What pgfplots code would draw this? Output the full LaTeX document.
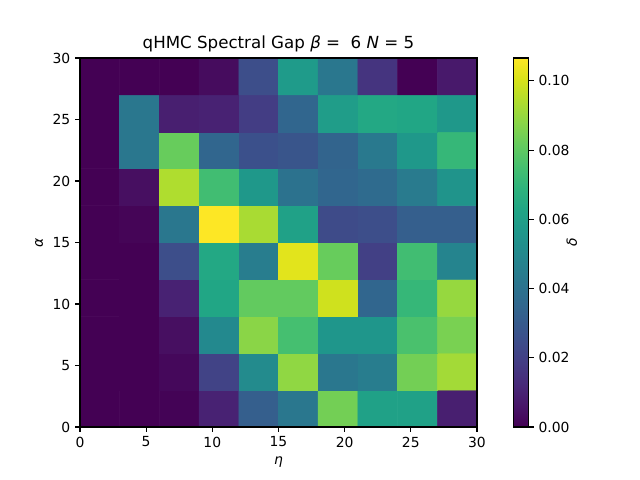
\documentclass[border=0pt]{standalone}
\usepackage{fontspec}
\setmainfont{DejaVu Sans}
\usepackage{pgfplots}
\pgfplotsset{compat=1.18}
\pgfplotstableread{
x y c
1.5 1.5 0
4.5 1.5 0
7.5 1.5 0.0005
10.5 1.5 0.010
13.5 1.5 0.032
16.5 1.5 0.042
19.5 1.5 0.084
22.5 1.5 0.061
25.5 1.5 0.061
28.5 1.5 0.009
1.5 4.5 0
4.5 4.5 0
7.5 4.5 0.002
10.5 4.5 0.021
13.5 4.5 0.051
16.5 4.5 0.089
19.5 4.5 0.042
22.5 4.5 0.045
25.5 4.5 0.084
28.5 4.5 0.092
1.5 7.5 0
4.5 7.5 0
7.5 7.5 0.004
10.5 7.5 0.050
13.5 7.5 0.088
16.5 7.5 0.075
19.5 7.5 0.056
22.5 7.5 0.056
25.5 7.5 0.076
28.5 7.5 0.085
1.5 10.5 0
4.5 10.5 0
7.5 10.5 0.010
10.5 10.5 0.063
13.5 10.5 0.081
16.5 10.5 0.081
19.5 10.5 0.099
22.5 10.5 0.035
25.5 10.5 0.071
28.5 10.5 0.090
1.5 13.5 0
4.5 13.5 0
7.5 13.5 0.025
10.5 13.5 0.064
13.5 13.5 0.045
16.5 13.5 0.102
19.5 13.5 0.082
22.5 13.5 0.020
25.5 13.5 0.074
28.5 13.5 0.048
1.5 16.5 0
4.5 16.5 0.001
7.5 16.5 0.042
10.5 16.5 0.1066
13.5 16.5 0.093
16.5 16.5 0.061
19.5 16.5 0.024
22.5 16.5 0.025
25.5 16.5 0.032
28.5 16.5 0.032
1.5 19.5 0
4.5 19.5 0.004
7.5 19.5 0.094
10.5 19.5 0.074
13.5 19.5 0.057
16.5 19.5 0.040
19.5 19.5 0.035
22.5 19.5 0.037
25.5 19.5 0.044
28.5 19.5 0.055
1.5 22.5 0
4.5 22.5 0.042
7.5 22.5 0.082
10.5 22.5 0.035
13.5 22.5 0.026
16.5 22.5 0.028
19.5 22.5 0.034
22.5 22.5 0.043
25.5 22.5 0.057
28.5 22.5 0.071
1.5 25.5 0
4.5 25.5 0.042
7.5 25.5 0.009
10.5 25.5 0.010
13.5 25.5 0.019
16.5 25.5 0.035
19.5 25.5 0.059
22.5 25.5 0.064
25.5 25.5 0.063
28.5 25.5 0.057
1.5 28.5 0
4.5 28.5 0
7.5 28.5 0
10.5 28.5 0.003
13.5 28.5 0.025
16.5 28.5 0.058
19.5 28.5 0.042
22.5 28.5 0.016
25.5 28.5 0
28.5 28.5 0.007
}\gapdata
\begin{document}
\begin{tikzpicture}[x=1pt,y=1pt]
\path[use as bounding box] (0,0) rectangle (460.8,345.6);
\begin{axis}[
  at={(57.6pt,38.16pt)}, anchor=south west,
  scale only axis, width=285.84pt, height=265.68pt,
  xmin=0, xmax=30, ymin=0, ymax=30,
  enlargelimits=false,
  xtick={0,5,...,30}, ytick={0,5,...,30},
  tick align=outside, tick pos=left,
  major tick length=3.5pt,
  every tick/.style={black, line width=0.8pt},
  axis line style={line width=0.8pt},
  ticklabel style={font=\fontsize{10}{12}\selectfont},
  /pgf/number format/assume math mode=true,
  title={qHMC Spectral Gap \textit{β} = \ 6 \textit{N} = 5},
  title style={font=\fontsize{12}{14}\selectfont, yshift=-5pt},
  xlabel={\textit{η}}, ylabel={\textit{α}},
  label style={font=\fontsize{10}{12}\selectfont},
  colormap/viridis,
  colorbar,
  point meta min=0, point meta max=0.1066,
  colorbar style={
    at={(parent axis.north east)}, anchor=north west, xshift=18pt,
    scale only axis, width=10.8pt, height=265.68pt,
    ytick={0,0.02,0.04,0.06,0.08,0.1},
    ytick pos=right,
    scaled y ticks=false,
    yticklabel style={/pgf/number format/.cd, fixed, fixed zerofill, precision=2, assume math mode=true, /tikz/.cd, font=\fontsize{10}{12}\selectfont},
    ylabel={\textit{δ}},
    ylabel shift=-9pt,
    tick align=outside, major tick length=3.5pt,
    every tick/.style={black, line width=0.8pt},
    axis line style={line width=0.8pt},
  },
  axis on top,
]
\addplot[matrix plot*, shader=faceted, faceted color=mapped color, line width=0.4pt, mesh/cols=10, point meta=explicit] table[x=x, y=y, meta=c] {\gapdata};
\end{axis}
\end{tikzpicture}
\end{document}
